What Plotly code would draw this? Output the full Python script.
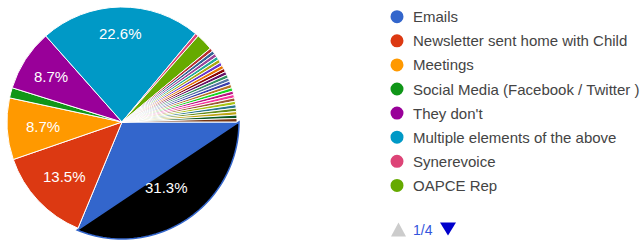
import math
import plotly.graph_objects as go

# ---- data (counts of responses, N = 208) ----
labels = ["Emails", "Newsletter sent home with Child", "Meetings",
          "Social Media (Facebook / Twitter )", "They don't",
          "Multiple elements of the above", "Synerevoice", "OAPCE Rep"] + \
         [f"Other response {i}" for i in range(1, 24)]
values = [65, 28, 18, 3, 18, 47, 1, 5] + [1] * 23
palette = ["#3366cc", "#dc3912", "#ff9900", "#109618", "#990099", "#0099c6",
           "#dd4477", "#66aa00", "#b82e2e", "#316395", "#994499", "#22aa99",
           "#aaaa11", "#6633cc", "#e67300", "#8b0707", "#651067", "#329262",
           "#5574a6", "#3b3eac", "#b77322", "#16d620", "#b91383", "#f4359e",
           "#9c5935", "#a9c413", "#2a778d", "#668d1c", "#bea413", "#0c5922",
           "#743411"]
colors = [palette[i % len(palette)] for i in range(len(values))]
legend_count = 8
page_text = "1/4"

# ---- geometry ----
W, H = 642, 242
CX, CY, R = 122, 122, 115
START = 90.0  # degrees clockwise from 12 o'clock


def px(x):
    return x / W


def py(y):
    return 1 - y / H


def pct(frac):
    return f"{math.floor(frac * 1000 + 0.5) / 10:.1f}%"


total = sum(values)
fig = go.Figure()
fig.add_trace(go.Pie(
    labels=labels, values=values, sort=False, direction="clockwise",
    rotation=START, marker=dict(colors=colors, line=dict(color="white", width=1)),
    textinfo="none", hoverinfo="skip", showlegend=False,
    domain=dict(x=[px(CX - R), px(CX + R)], y=[py(CY + R), py(CY - R)]),
))

shapes = []
annotations = []

# hover-highlight artifact on first slice (black segment with blue rim)
a0 = START
a1 = START + values[0] / total * 360
Rs = R + 2
pts = []
n = 60
for k in range(n + 1):
    a = math.radians(a0 + (a1 - a0) * k / n)
    pts.append((CX + Rs * math.sin(a), CY - Rs * math.cos(a)))
path = "M " + " L ".join(f"{px(x):.5f},{py(y):.5f}" for x, y in pts) + " Z"
shapes.append(dict(type="path", xref="paper", yref="paper", path=path,
                   fillcolor="black", line=dict(color="#3366cc", width=1.5)))

# slice percentage labels
acc = START
for v in values:
    frac = v / total
    mid = math.radians(acc + frac * 180)
    acc += frac * 360
    if frac >= 0.05:
        rr = R * (0.69 + 0.08 * max(0.0, math.cos(mid)))
        x = CX + rr * math.sin(mid)
        y = CY - rr * math.cos(mid)
        annotations.append(dict(x=px(x), y=py(y), xref="paper", yref="paper",
                                text=pct(frac), showarrow=False,
                                font=dict(family="Arial", size=15, color="white"),
                                xanchor="center", yanchor="middle"))

# custom legend (page 1)
LX, LY0, LDY = 397, 16.7, 24.1
for i in range(legend_count):
    y = LY0 + i * LDY
    shapes.append(dict(type="circle", xref="paper", yref="paper",
                       x0=px(LX - 6.5), x1=px(LX + 6.5), y0=py(y + 6.5), y1=py(y - 6.5),
                       fillcolor=colors[i], line=dict(width=0)))
    annotations.append(dict(x=px(411), y=py(y), xref="paper", yref="paper",
                            text=labels[i], showarrow=False, xanchor="left",
                            yanchor="middle",
                            font=dict(family="Arial", size=15, color="#444444")))

# pager
PY = 229.5
shapes.append(dict(type="path", xref="paper", yref="paper",
                   path=f"M {px(391)},{py(PY+7)} L {px(406)},{py(PY+7)} L {px(398.5)},{py(PY-7)} Z",
                   fillcolor="#cccccc", line=dict(width=0)))
shapes.append(dict(type="path", xref="paper", yref="paper",
                   path=f"M {px(440)},{py(PY-7)} L {px(456)},{py(PY-7)} L {px(448)},{py(PY+6)} Z",
                   fillcolor="#0000cc", line=dict(width=0)))
annotations.append(dict(x=px(423), y=py(PY), xref="paper", yref="paper",
                        text=page_text, showarrow=False, xanchor="center",
                        yanchor="middle",
                        font=dict(family="Arial", size=14, color="#3355dd")))

fig.update_layout(width=W, height=H, margin=dict(l=0, r=0, t=0, b=0),
                  paper_bgcolor="white", plot_bgcolor="white",
                  shapes=shapes, annotations=annotations)
fig.write_html("out.html", config={"displayModeBar": False},
               post_script="document.body.style.margin='0';document.body.style.overflow='hidden';")
